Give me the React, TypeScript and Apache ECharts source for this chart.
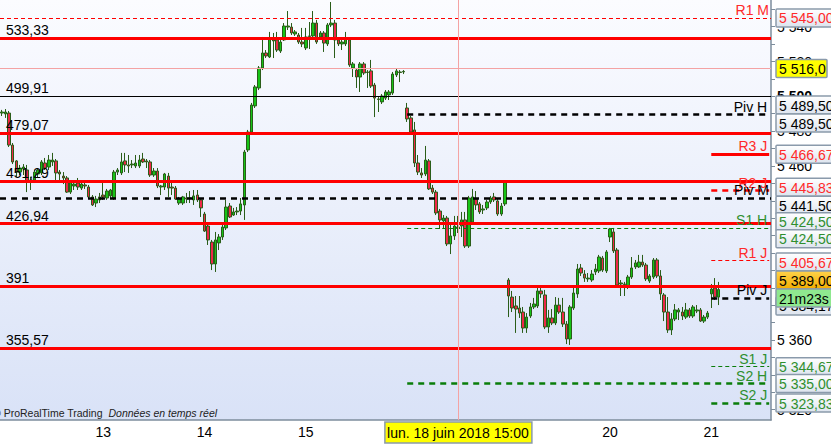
import React, { useEffect, useRef } from 'react';
import * as echarts from 'echarts';

// ---------- categories (30-minute bars, 08:00 -> 21:30) ----------
const tradingDays = ['12', '13', '14', '15', '18', '19', '20', '21'];
const weekdays = ['mar.', 'mer.', 'jeu.', 'ven.', 'lun.', 'mar.', 'mer.', 'jeu.'];
const barsPerDay = 28;
const slotsLastDay = 17;

// ---------- candles: [open, close, low, high] ----------
const day12 = [
  [5490.4, 5491.0, 5488.7, 5492.2], [5489.9, 5491.0, 5487.6, 5492.7], [5490.4, 5472.0, 5470.9, 5491.6],
  [5472.0, 5462.3, 5461.1, 5473.2], [5462.9, 5456.5, 5453.7, 5463.4], [5456.5, 5458.8, 5454.8, 5460.6],
  [5458.3, 5459.4, 5454.8, 5461.1], [5457.7, 5451.4, 5445.0, 5460.6], [5451.9, 5451.4, 5446.2, 5453.7],
  [5451.9, 5456.5, 5450.2, 5457.7], [5455.4, 5457.7, 5453.1, 5458.8], [5456.0, 5462.3, 5454.8, 5463.4],
  [5461.7, 5458.8, 5457.7, 5464.6], [5459.4, 5463.4, 5457.7, 5466.3], [5462.3, 5463.4, 5460.0, 5467.5],
  [5462.9, 5456.0, 5450.2, 5464.0], [5456.5, 5455.4, 5450.8, 5457.7], [5454.2, 5453.1, 5449.6, 5456.5],
  [5453.1, 5445.0, 5444.5, 5454.2], [5445.0, 5450.8, 5443.9, 5451.9], [5448.5, 5449.6, 5446.2, 5451.9],
  [5450.2, 5447.9, 5446.2, 5453.1], [5447.3, 5449.6, 5446.2, 5451.9], [5449.1, 5448.5, 5446.8, 5450.2],
  [5447.9, 5442.2, 5441.6, 5449.1], [5442.2, 5437.6, 5437.0, 5443.3], [5438.7, 5441.0, 5436.4, 5442.8],
  [5442.2, 5440.5, 5438.7, 5444.5],
];
const day13 = [
  [5443.3, 5442.2, 5440.5, 5450.2], [5441.6, 5445.6, 5440.5, 5446.8], [5442.8, 5446.2, 5441.6, 5446.8],
  [5441.6, 5456.5, 5440.5, 5457.7], [5456.5, 5457.7, 5454.8, 5458.8], [5456.0, 5462.3, 5454.8, 5467.5],
  [5462.9, 5460.6, 5456.5, 5467.5], [5460.6, 5460.0, 5456.0, 5466.3], [5460.6, 5461.1, 5458.8, 5463.4],
  [5460.0, 5461.7, 5458.8, 5466.3], [5460.0, 5463.4, 5458.8, 5466.3], [5464.0, 5462.3, 5461.7, 5467.5],
  [5462.9, 5462.3, 5458.8, 5464.0], [5462.3, 5454.8, 5453.7, 5463.4], [5454.8, 5457.1, 5453.7, 5458.8],
  [5457.1, 5448.5, 5447.3, 5458.8], [5447.9, 5448.5, 5443.3, 5449.1], [5447.9, 5455.4, 5446.2, 5456.0],
  [5454.2, 5447.3, 5442.2, 5456.0], [5447.9, 5447.3, 5443.3, 5451.9], [5447.3, 5441.0, 5440.5, 5448.5],
  [5438.7, 5441.0, 5437.6, 5442.2], [5438.7, 5442.2, 5437.6, 5442.8], [5441.6, 5441.0, 5438.7, 5444.5],
  [5441.6, 5441.3, 5438.7, 5445.6], [5440.5, 5442.8, 5437.6, 5446.2], [5443.3, 5440.5, 5439.3, 5446.2],
  [5440.5, 5435.9, 5430.7, 5441.6],
];
const day14 = [
  [5432.4, 5422.6, 5422.1, 5433.6], [5425.5, 5417.5, 5414.6, 5426.7], [5416.3, 5403.7, 5400.2, 5417.5],
  [5403.7, 5417.5, 5399.1, 5422.1], [5415.8, 5419.2, 5411.7, 5420.9], [5419.2, 5424.9, 5417.5, 5426.1],
  [5424.4, 5436.4, 5423.2, 5440.5], [5437.0, 5430.7, 5430.1, 5438.7], [5431.8, 5433.6, 5431.3, 5435.9],
  [5433.6, 5434.1, 5431.8, 5436.4], [5434.1, 5438.2, 5431.8, 5441.6], [5437.6, 5468.0, 5429.0, 5469.2],
  [5469.2, 5479.5, 5468.0, 5480.7], [5479.5, 5495.0, 5478.4, 5496.2], [5494.5, 5505.4, 5493.3, 5506.5],
  [5504.8, 5516.3, 5503.6, 5517.4], [5516.3, 5524.9, 5515.1, 5534.1], [5524.9, 5523.2, 5522.0, 5526.6],
  [5522.6, 5532.9, 5522.0, 5537.0], [5532.4, 5531.8, 5522.0, 5536.4], [5532.4, 5526.6, 5525.5, 5537.0],
  [5526.0, 5531.2, 5524.9, 5532.4], [5532.4, 5540.4, 5531.8, 5542.1], [5539.8, 5540.4, 5538.1, 5549.0],
  [5539.8, 5536.4, 5535.2, 5542.1], [5535.8, 5537.0, 5534.7, 5538.1], [5535.2, 5531.2, 5530.1, 5536.4],
  [5531.2, 5530.1, 5528.3, 5539.3],
];
const day15 = [
  [5527.8, 5534.1, 5526.6, 5539.3], [5534.7, 5534.4, 5527.2, 5542.7], [5534.7, 5542.1, 5534.1, 5549.0],
  [5542.1, 5531.2, 5530.1, 5543.9], [5534.1, 5536.4, 5532.9, 5537.5], [5536.4, 5530.6, 5525.5, 5537.5],
  [5530.1, 5541.0, 5528.9, 5542.1], [5541.0, 5542.1, 5539.8, 5554.2], [5542.1, 5532.4, 5522.0, 5543.9],
  [5532.4, 5530.1, 5528.9, 5533.5], [5530.1, 5531.2, 5526.6, 5532.4], [5530.1, 5532.9, 5528.9, 5537.0],
  [5532.4, 5518.0, 5516.9, 5533.5], [5516.3, 5518.6, 5511.1, 5519.7], [5515.1, 5511.1, 5504.8, 5516.3],
  [5511.1, 5518.6, 5502.5, 5519.7], [5518.6, 5513.4, 5512.3, 5519.7], [5514.0, 5513.7, 5504.8, 5515.1],
  [5514.6, 5505.9, 5504.8, 5520.9], [5506.5, 5499.0, 5488.1, 5507.7], [5498.5, 5498.2, 5491.0, 5499.6],
  [5496.8, 5500.2, 5495.6, 5501.3], [5499.0, 5502.5, 5497.9, 5503.6], [5500.8, 5502.5, 5497.9, 5503.6],
  [5501.9, 5512.8, 5500.8, 5514.0], [5512.3, 5514.6, 5511.1, 5515.7], [5514.0, 5513.7, 5508.2, 5515.1],
  [5514.0, 5514.3, 5512.8, 5515.1],
];
const day18 = [
  [5493.3, 5487.0, 5485.3, 5496.2], [5487.6, 5479.5, 5478.4, 5488.7], [5480.7, 5461.7, 5459.4, 5485.3],
  [5461.7, 5456.5, 5454.8, 5466.3], [5456.0, 5454.8, 5453.1, 5458.8], [5455.4, 5463.4, 5454.2, 5471.5],
  [5462.9, 5446.8, 5446.2, 5464.0], [5447.3, 5445.0, 5443.9, 5449.1], [5445.0, 5433.0, 5431.8, 5446.2],
  [5434.1, 5429.0, 5423.8, 5435.3], [5428.4, 5430.1, 5423.8, 5431.8], [5430.1, 5415.2, 5414.0, 5431.3],
  [5415.2, 5419.8, 5409.4, 5426.1], [5419.8, 5425.5, 5417.5, 5431.3], [5424.9, 5424.4, 5421.5, 5431.3],
  [5425.5, 5429.0, 5419.2, 5433.6], [5429.0, 5414.0, 5412.9, 5433.6], [5414.0, 5441.6, 5412.9, 5442.8],
  [5427.8, 5442.2, 5426.1, 5446.8], [5441.0, 5437.6, 5434.7, 5445.6], [5438.2, 5433.6, 5432.4, 5439.3],
  [5434.7, 5435.3, 5432.4, 5437.6], [5435.9, 5439.3, 5434.7, 5440.5], [5439.3, 5441.6, 5438.2, 5442.8],
  [5442.2, 5440.5, 5439.3, 5444.5], [5439.9, 5432.4, 5431.3, 5441.0], [5432.4, 5437.0, 5431.3, 5438.7],
  [5438.2, 5450.8, 5437.0, 5451.4],
];
const day19 = [
  [5394.5, 5385.3, 5373.2, 5395.6], [5384.7, 5378.4, 5376.1, 5388.2], [5379.6, 5377.8, 5364.1, 5385.3],
  [5378.4, 5375.5, 5372.7, 5385.3], [5376.1, 5366.9, 5364.1, 5379.0], [5366.9, 5373.2, 5364.1, 5375.5],
  [5373.8, 5379.0, 5372.7, 5381.3], [5379.0, 5380.7, 5377.8, 5384.2], [5379.6, 5388.2, 5378.4, 5389.9],
  [5388.2, 5386.5, 5384.2, 5389.9], [5385.9, 5367.5, 5366.3, 5388.8], [5367.5, 5372.7, 5364.1, 5377.3],
  [5372.7, 5369.8, 5368.6, 5377.8], [5369.8, 5380.1, 5368.6, 5384.7], [5380.1, 5376.1, 5375.0, 5384.2],
  [5376.1, 5369.2, 5367.5, 5384.2], [5369.2, 5360.6, 5357.7, 5370.9], [5360.6, 5379.0, 5357.2, 5380.1],
  [5378.4, 5387.0, 5377.3, 5391.6], [5386.5, 5400.8, 5384.2, 5403.7], [5401.4, 5398.5, 5396.8, 5403.7],
  [5397.9, 5395.6, 5393.4, 5400.2], [5395.1, 5395.6, 5393.4, 5398.5], [5394.5, 5397.9, 5393.4, 5400.2],
  [5399.1, 5400.8, 5397.4, 5403.7], [5399.7, 5407.7, 5398.5, 5408.9], [5407.1, 5400.2, 5399.1, 5408.3],
  [5399.7, 5410.6, 5398.5, 5411.7],
];
const day20 = [
  [5419.2, 5423.8, 5416.3, 5424.4], [5422.1, 5411.2, 5410.0, 5424.4], [5411.7, 5391.6, 5390.5, 5412.9],
  [5392.2, 5392.8, 5385.3, 5394.5], [5392.2, 5391.9, 5385.3, 5393.4], [5390.5, 5396.2, 5389.3, 5397.4],
  [5396.2, 5401.4, 5395.1, 5407.7], [5402.0, 5404.3, 5400.8, 5406.0], [5402.0, 5404.8, 5401.4, 5408.9],
  [5404.8, 5403.1, 5402.0, 5408.9], [5403.1, 5395.1, 5393.9, 5404.3], [5393.9, 5396.8, 5392.8, 5397.9],
  [5396.2, 5406.0, 5395.1, 5407.1], [5406.0, 5396.8, 5395.6, 5407.1], [5396.8, 5386.5, 5383.0, 5400.2],
  [5385.9, 5376.1, 5370.9, 5387.0], [5376.1, 5365.8, 5364.1, 5384.7], [5365.8, 5372.1, 5362.9, 5375.5],
  [5372.1, 5377.3, 5370.9, 5380.7], [5376.1, 5377.3, 5371.5, 5378.4], [5376.1, 5373.8, 5371.5, 5379.0],
  [5373.2, 5377.3, 5372.1, 5381.3], [5377.3, 5373.8, 5372.7, 5378.4], [5373.8, 5379.0, 5372.7, 5380.1],
  [5376.7, 5377.3, 5375.5, 5380.1], [5377.3, 5370.9, 5370.4, 5378.4], [5370.9, 5373.2, 5369.8, 5374.4],
  [5373.2, 5375.5, 5372.1, 5376.7],
];
const day21 = [
  [5386.5, 5389.3, 5378.4, 5392.2], [5389.9, 5384.7, 5383.0, 5395.6], [5384.7, 5389.0, 5380.1, 5393.4],
];

// ---------- horizontal levels ----------
const supportResistance = [5533.33, 5499.91, 5479.07, 5451.29, 5426.94, 5391, 5355.57];
const pivotNames = ['R1 M', 'Piv H', 'R3 J', 'R2 J', 'Piv M', 'S1 H', 'R1 J', 'Piv J', 'S1 J', 'S2 H', 'S2 J'];
const pivotValues = [5545, 5489.5, 5466.67, 5445.83, 5441.5, 5424.5, 5405.67, 5384.17, 5344.67, 5335, 5323.83];

const cursorCategory = 'lun. 18 juin 2018 15:00';
const hiddenDayLabels = ['18', '19'];
const cursorPrice = 5516;
const lastPrice = 5389;
const countdown = '21m23s';

const yMin = 5314.07;
const yMax = 5555.34;
const yLabelValues = [5320, 5340, 5360, 5380, 5400, 5420, 5440, 5460, 5480, 5500, 5520, 5540];
const yTickValues = [5320, 5330, 5340, 5350, 5360, 5370, 5380, 5390, 5400, 5410, 5420, 5430, 5440, 5450, 5460, 5470, 5480, 5490, 5500, 5510, 5520, 5530, 5540, 5550];

const FONT = '"Liberation Sans", Arial, sans-serif';

function fmtPrice(v: number, dec = 2) {
  const s = v.toFixed(dec).replace('.', ',');
  return s.slice(0, 1) + ' ' + s.slice(1);
}
function fmtShort(v: number) {
  const r = v - 5000;
  return Number.isInteger(r) ? String(r) : r.toFixed(2).replace('.', ',');
}

const categories: string[] = [];
tradingDays.forEach((d, di) => {
  const n = di === tradingDays.length - 1 ? slotsLastDay : barsPerDay;
  for (let k = 0; k < n; k++) {
    const mins = 8 * 60 + 30 * k;
    const hh = String(Math.floor(mins / 60)).padStart(2, '0');
    const mm = String(mins % 60).padStart(2, '0');
    categories.push(`${weekdays[di]} ${d} juin 2018 ${hh}:${mm}`);
  }
});
const candles = [...day12, ...day13, ...day14, ...day15, ...day18, ...day19, ...day20, ...day21];
const dayStart = (d: string) => categories.findIndex((c) => c.split(' ')[1] === d);
const cursorIndex = categories.indexOf(cursorCategory);

function pivotStyle(name: string) {
  const color = name.startsWith('R') ? '#ff0000' : name.startsWith('S') ? '#0a7d0a' : '#000000';
  const labelColor = name.startsWith('R') ? '#ff2a2a' : name.startsWith('S') ? '#2f8f2f' : '#000000';
  const thin = ['R1 M', 'S1 H', 'R1 J', 'S1 J'].includes(name);
  const solid = name === 'R3 J';
  return {
    color,
    labelColor,
    width: thin ? 1 : solid ? 3 : 2.5,
    type: solid ? 'solid' : thin ? [4, 3] : [6, 5],
  };
}

export default function App() {
  const ref = useRef<HTMLDivElement>(null);
  useEffect(() => {
    const chart = echarts.init(ref.current!, undefined, { renderer: 'svg' });
    const lastIdx = categories.length - 1;
    const mlData: any[] = [];
    supportResistance.forEach((v) => {
      const black = v === 5499.91;
      mlData.push({
        yAxis: v,
        lineStyle: { color: black ? '#000' : '#ff0000', width: black ? 1 : 3, type: 'solid' },
        label: {
          show: true, position: 'insideStartTop', formatter: fmtShort(v), color: '#000',
          fontSize: 14, fontFamily: FONT, distance: [6, 1],
        },
      });
    });
    pivotNames.forEach((name, i) => {
      const v = pivotValues[i];
      const st = pivotStyle(name);
      const label = {
        show: true, position: 'insideEndTop', formatter: name, color: st.labelColor,
        fontSize: 14, fontFamily: FONT, distance: [2, 1],
      };
      const lineStyle = { color: st.color, width: st.width, type: st.type };
      if (name.endsWith('M')) {
        mlData.push({ yAxis: v, lineStyle, label });
      } else {
        const start = name.endsWith('H') ? dayStart('18') : dayStart('21');
        mlData.push([{ coord: [start, v], lineStyle, label }, { coord: [lastIdx, v] }]);
      }
    });
    mlData.push({ yAxis: cursorPrice, lineStyle: { color: '#f4a3a3', width: 1, type: 'solid' }, label: { show: false } });
    mlData.push({ xAxis: cursorIndex, lineStyle: { color: '#f4a3a3', width: 1, type: 'solid' }, label: { show: false } });

    const dayTick = (index: number, value: string) => index > 0 && value.endsWith('08:00');
    const dayLabel = (index: number, value: string) =>
      dayTick(index, value) && !hiddenDayLabels.includes(value.split(' ')[1]);

    chart.setOption({
      animation: false,
      backgroundColor: '#ffffff',
      grid: {
        left: -3, right: 60, top: 0, bottom: 25, show: true, borderWidth: 0,
        backgroundColor: new echarts.graphic.LinearGradient(0, 0, 0, 1, [
          { offset: 0, color: '#fbfcff' },
          { offset: 1, color: '#d9e2f7' },
        ]),
      },
      xAxis: {
        type: 'category', data: categories, boundaryGap: true,
        axisLine: { lineStyle: { color: '#7d8d9c', width: 1.5 } },
        axisTick: { alignWithLabel: true, interval: dayTick, length: 4, lineStyle: { color: '#7d8d9c' } },
        axisLabel: {
          interval: dayLabel, formatter: (v: string) => v.split(' ')[1], color: '#000',
          fontSize: 14, fontFamily: FONT, margin: 5,
        },
        splitLine: { show: false },
      },
      yAxis: {
        type: 'value', position: 'right', min: yMin, max: yMax, scale: true,
        axisLine: { show: true, lineStyle: { color: '#7d8d9c', width: 1.5 } },
        axisTick: { show: true, customValues: yTickValues, length: 4, lineStyle: { color: '#7d8d9c' } },
        axisLabel: {
          customValues: yLabelValues, margin: 6, color: '#000', fontSize: 14, fontFamily: FONT,
          formatter: (v: number) => (v === 5500 ? '{b|' + fmtPrice(v, 0) + '}' : fmtPrice(v, 0)),
          rich: { b: { fontWeight: 'bold', fontSize: 14, fontFamily: FONT, color: '#000' } },
        },
        splitLine: { show: false },
      },
      series: [
        {
          type: 'candlestick',
          data: candles,
          barWidth: 3,
          itemStyle: {
            color: '#16c416', color0: '#ee2848',
            borderColor: '#2a5d19', borderColor0: '#2a5d19', borderWidth: 1,
          },
          markLine: { symbol: ['none', 'none'], silent: true, animation: false, data: mlData },
        },
      ],
    });

    const yPix = (v: number) => chart.convertToPixel({ yAxisIndex: 0 }, v) as number;
    const xPix = (i: number) => chart.convertToPixel({ xAxisIndex: 0 }, i) as number;
    const boxFill = new echarts.graphic.LinearGradient(0, 0, 0, 1, [
      { offset: 0, color: '#ffffff' },
      { offset: 1, color: '#dde4ee' },
    ]);
    const tags: { v: number; text: string; color: string; dy: number; fill?: any; w?: number }[] = [
      { v: 5545, text: fmtPrice(5545), color: '#ff2a2a', dy: 0 },
      { v: cursorPrice, text: fmtPrice(cursorPrice, 1), color: '#000', dy: 0, fill: '#ffff00', w: 51 },
      { v: 5489.5, text: fmtPrice(5489.5), color: '#000', dy: -9.5 },
      { v: 5489.5, text: fmtPrice(5489.5), color: '#000', dy: 8.5 },
      { v: 5466.67, text: fmtPrice(5466.67), color: '#ff2a2a', dy: 0 },
      { v: 5445.83, text: fmtPrice(5445.83), color: '#ff2a2a', dy: -3.5 },
      { v: 5441.5, text: fmtPrice(5441.5), color: '#000', dy: 7 },
      { v: 5424.5, text: fmtPrice(5424.5), color: '#2f8f2f', dy: -6 },
      { v: 5424.5, text: fmtPrice(5424.5), color: '#2f8f2f', dy: 11 },
      { v: 5405.67, text: fmtPrice(5405.67), color: '#ff2a2a', dy: 1.5 },
      { v: 5384.17, text: fmtPrice(5384.17), color: '#000', dy: 8 },
      { v: lastPrice, text: fmtPrice(lastPrice), color: '#000', dy: -9.5, fill: new echarts.graphic.LinearGradient(0, 0, 0, 1, [{ offset: 0, color: '#ffd24a' }, { offset: 1, color: '#f2ad00' }]) },
      { v: lastPrice, text: countdown, color: '#000', dy: 8.5, fill: '#8fe88f' },
      { v: 5344.67, text: fmtPrice(5344.67), color: '#2f8f2f', dy: 0 },
      { v: 5335, text: fmtPrice(5335), color: '#2f8f2f', dy: 0 },
      { v: 5323.83, text: fmtPrice(5323.83), color: '#2f8f2f', dy: 0 },
    ];
    const right = 771;
    const elements: any[] = [];
    tags.forEach((t, i) => {
      const cy = yPix(t.v) + t.dy;
      elements.push({
        type: 'rect', z: 100 + i,
        shape: { x: right + 5, y: cy - 9, width: t.w ?? 60, height: 18, r: 1 },
        style: { fill: t.fill ?? boxFill, stroke: '#8a9aab', lineWidth: 1.5 },
      });
      elements.push({
        type: 'text', z: 100 + i,
        style: { text: t.text, x: right + 8, y: cy + 0.5, fill: t.color, fontSize: 14, fontFamily: FONT, verticalAlign: 'middle' },
      });
    });
    const cx = xPix(cursorIndex);
    elements.push({
      type: 'rect', z: 120,
      shape: { x: cx - 73, y: 422, width: 147, height: 21 },
      style: { fill: '#ffff00', stroke: '#8a9aab', lineWidth: 1.5 },
    });
    elements.push({
      type: 'text', z: 121,
      style: { text: cursorCategory, x: cx, y: 433, fill: '#000', fontSize: 14, fontFamily: FONT, align: 'center', verticalAlign: 'middle' },
    });
    elements.push({
      type: 'text', z: 90,
      style: {
        text: '© ProRealTime Trading  {i|Données en temps réel}', x: -7, y: 413, fill: '#222',
        fontSize: 10.5, fontFamily: FONT, verticalAlign: 'middle',
        rich: { i: { fontStyle: 'italic', fontSize: 10.5, fontFamily: FONT, fill: '#222' } },
      },
    });
    chart.setOption({ graphic: elements });

    return () => chart.dispose();
  }, []);
  return <div ref={ref} style={{ position: 'fixed', left: 0, top: 0, width: 831, height: 445, background: '#fff' }} />;
}
